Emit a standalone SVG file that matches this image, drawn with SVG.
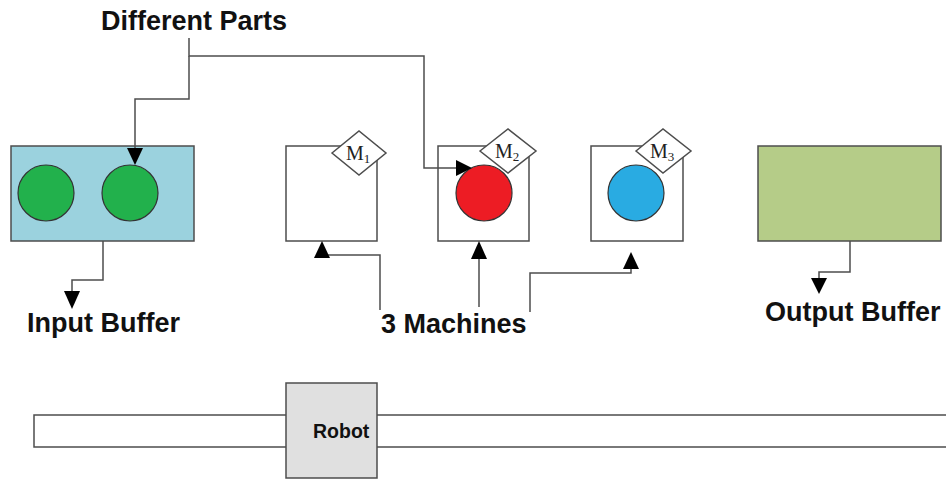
<svg xmlns="http://www.w3.org/2000/svg" width="946" height="481" viewBox="0 0 946 481">
<style>
.box{stroke:#4d4d4d;stroke-width:1.5}
.ln{fill:none;stroke:#4d4d4d;stroke-width:1.5}
.lbl{font-family:"Liberation Sans",Arial,sans-serif;font-weight:bold;font-size:27px;fill:#111}
.m{font-family:"Liberation Serif","Times New Roman",serif;font-size:20px;fill:#222}
.circ{stroke:#333;stroke-width:1.2}
.ah{fill:#000}
</style>
<rect width="946" height="481" fill="#fff"/>
<g id="input-buffer">
<rect class="box" x="11" y="146" width="183" height="95" fill="#9bd2de"/>
<circle class="circ" cx="46" cy="193" r="28" fill="#22b14c"/>
<circle class="circ" cx="130" cy="193" r="28" fill="#22b14c"/>
</g>
<g id="m1">
<rect class="box" x="286" y="146" width="91" height="95" fill="#fff"/>
<polygon class="box" points="332,153 359,131 386,153 359,175" fill="#fff"/>
<text class="m" x="346" y="160">M<tspan font-size="13" dy="3">1</tspan></text>
</g>
<g id="m2">
<rect class="box" x="438" y="146" width="91" height="95" fill="#fff"/>
<circle class="circ" cx="484" cy="193" r="28" fill="#ed1c24"/>
<polygon class="box" points="480,151 508,129 536,151 508,173" fill="#fff"/>
<text class="m" x="495" y="158">M<tspan font-size="13" dy="3">2</tspan></text>
</g>
<g id="m3">
<rect class="box" x="591" y="146" width="92" height="95" fill="#fff"/>
<circle class="circ" cx="636" cy="193" r="28" fill="#29abe2"/>
<polygon class="box" points="636,151 663,129 691,151 663,173" fill="#fff"/>
<text class="m" x="650" y="158">M<tspan font-size="13" dy="3">3</tspan></text>
</g>
<g id="output-buffer">
<rect class="box" x="758" y="146" width="183" height="95" fill="#b5cc88"/>
</g>
<g id="robot-rail">
<rect class="box" x="34" y="415" width="920" height="32" fill="#fff"/>
</g>
<g id="robot">
<rect class="box" x="286" y="383" width="91" height="95" fill="#e0e0e0"/>
<text class="lbl" x="313" y="438" style="font-size:19.5px">Robot</text>
</g>
<g id="labels">
<text class="lbl" x="101" y="30">Different Parts</text>
<text class="lbl" x="27" y="332">Input Buffer</text>
<text class="lbl" x="381" y="333">3 Machines</text>
<text class="lbl" x="765" y="321">Output Buffer</text>
</g>
<g id="connectors">
<polyline class="ln" points="189,38 189,56 424,56 424,168 456,168"/>
<polygon class="ah" points="456,160 472,168 456,176"/>
<polyline class="ln" points="189,56 189,99 135,99 135,148"/>
<polygon class="ah" points="127,148 143,148 135,165"/>
<polyline class="ln" points="103,241 103,280 72,280 72,292"/>
<polygon class="ah" points="64,291 80,291 72,309"/>
<polyline class="ln" points="380,310 380,255 322,255"/>
<polygon class="ah" points="314,258 330,258 322,241"/>
<polyline class="ln" points="479,307 479,259"/>
<polygon class="ah" points="471,259 487,259 479,241"/>
<polyline class="ln" points="530,312 530,273 631,273 631,268"/>
<polygon class="ah" points="623,269 639,269 631,252"/>
<polyline class="ln" points="850,241 850,272 819,272 819,279"/>
<polygon class="ah" points="811,278 827,278 819,294"/>
</g>
</svg>
